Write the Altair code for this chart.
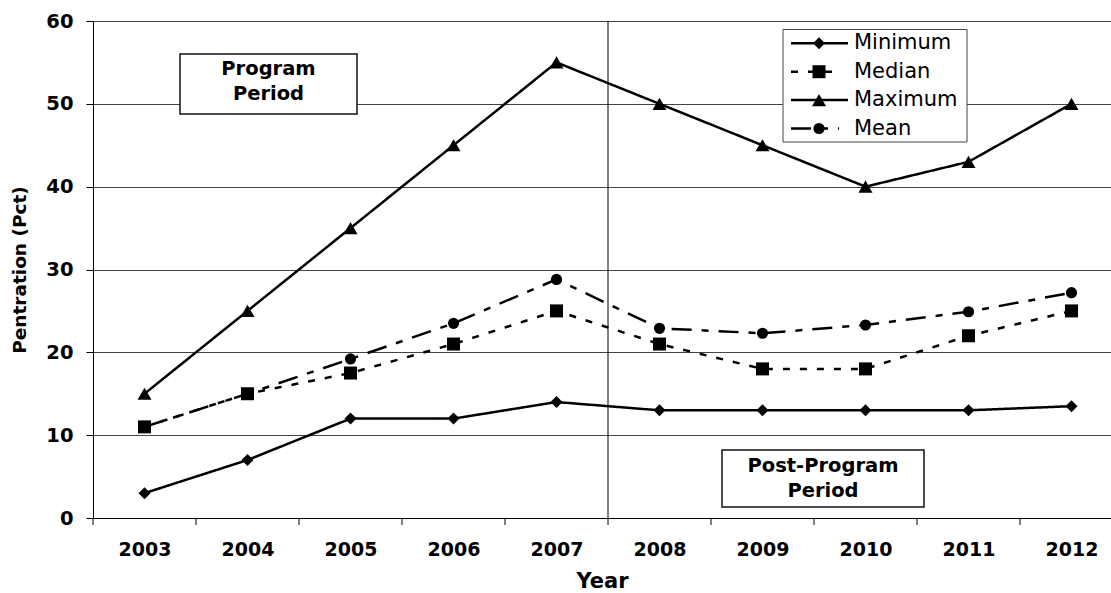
import altair as alt
import pandas as pd

# Penetration statistics by year
years = [2003, 2004, 2005, 2006, 2007, 2008, 2009, 2010, 2011, 2012]
minimum = [3, 7, 12, 12, 14, 13, 13, 13, 13, 13.5]
median = [11, 15, 17.5, 21, 25, 21, 18, 18, 22, 25]
maximum = [15, 25, 35, 45, 55, 50, 45, 40, 43, 50]
mean = [11, 15, 19.2, 23.5, 28.8, 22.9, 22.3, 23.3, 24.9, 27.2]

series_names = ["Minimum", "Median", "Maximum", "Mean"]
y_ticks = [0, 10, 20, 30, 40, 50, 60]
program_end = 2007
period_labels = [["Program", "Period"], ["Post-Program", "Period"]]

FONT = "DejaVu Sans"
W, H = 1018, 497

series_values = {"Minimum": minimum, "Median": median, "Maximum": maximum, "Mean": mean}
styles = {
    "Minimum": dict(shape="diamond", size=144, dash=[1, 0]),
    "Median": dict(shape="square", size=169, dash=[7, 10]),
    "Maximum": dict(shape="triangle-up", size=196, dash=[1, 0]),
    "Mean": dict(shape="circle", size=125, dash=[20, 10, 7, 10]),
}

x_scale = alt.Scale(domain=[2002.5, 2002.5 + W / 103.0], nice=False, zero=False)
y_scale = alt.Scale(domain=[0, 60], nice=False)

x_axis = alt.Axis(
    values=years, format="d", tickSize=0, grid=False, domainColor="black",
    labelFont=FONT, labelFontSize=19, labelFontWeight="bold", labelColor="black",
    labelBaseline="alphabetic", labelPadding=37, labelFlush=False, labelOverlap=False,
    title="Year", titleFont=FONT, titleFontSize=21, titleFontWeight="bold",
    titleColor="black", titleBaseline="alphabetic", titleY=69,
)
y_axis = alt.Axis(
    values=y_ticks, tickSize=7, tickColor="black", domainColor="black",
    grid=True, gridColor="#444", gridWidth=1,
    labelFont=FONT, labelFontSize=19.5, labelFontWeight="bold", labelColor="black",
    labelPadding=13,
    title="Pentration (Pct)", titleFont=FONT, titleFontSize=18.5, titleFontWeight="bold",
    titleColor="black", titleX=-74, titleY=H / 2, titleBaseline="middle",
)

X = dict(scale=x_scale, axis=x_axis)
Y = dict(scale=y_scale, axis=y_axis)


def series_df(name):
    return pd.DataFrame({"year": years, "value": series_values[name], "series": name})


one_row = alt.Data(values=[{"k": 0}])

# tick marks at the year boundaries
bounds = pd.DataFrame({"year": [y - 0.5 for y in years]})
bound_ticks = alt.Chart(bounds).mark_rule(color="black", strokeWidth=1).encode(
    x=alt.X("year:Q", **X),
    y=alt.value(H), y2=alt.value(H + 7),
)

# divider between the program and post-program periods
divider = alt.Chart(one_row).mark_rule(color="black", strokeWidth=1).encode(
    x=alt.X(datum=program_end + 0.5, type="quantitative", **X),
    y=alt.value(0), y2=alt.value(H),
)


def series_layer(name):
    st = styles[name]
    return alt.Chart(series_df(name)).mark_line(
        color="black", strokeWidth=2.5, strokeDash=st["dash"],
        point=alt.OverlayMarkDef(shape=st["shape"], size=st["size"], filled=True,
                                 color="black", opacity=1),
    ).encode(
        x=alt.X("year:Q", **X),
        y=alt.Y("value:Q", **Y),
    )


lines = [series_layer(n) for n in ["Maximum", "Mean", "Median", "Minimum"]]


def period_box(x1, x2, y1, y2, first_line_y, label):
    rect = alt.Chart(one_row).mark_rect(fill="white", stroke="#111", strokeWidth=1.5).encode(
        x=alt.value(x1), x2=alt.value(x2), y=alt.value(y1), y2=alt.value(y2)
    )
    txt = alt.Chart(one_row).mark_text(
        font=FONT, fontSize=19.5, fontWeight="bold", color="black",
        align="center", baseline="middle", lineHeight=25,
    ).encode(x=alt.value((x1 + x2) / 2), y=alt.value(first_line_y), text=alt.value(label))
    return [rect, txt]


boxes = (period_box(87, 264, 33, 93, 47.5, period_labels[0])
         + period_box(629, 831, 429, 486, 444.5, period_labels[1]))

# legend
legend = [
    alt.Chart(one_row).mark_rect(fill="white", stroke="#444", strokeWidth=1).encode(
        x=alt.value(690), x2=alt.value(874), y=alt.value(8.5), y2=alt.value(121)
    )
]
for i, name in enumerate(series_names):
    st = styles[name]
    ry = 22.3 + 28.4 * i
    row = alt.Data(values=[{"label": name}])
    legend.append(
        alt.Chart(row).mark_rule(color="black", strokeWidth=2.5, strokeDash=st["dash"]).encode(
            x=alt.value(698), x2=alt.value(755 if st["dash"] == [1, 0] else 746), y=alt.value(ry)
        )
    )
    legend.append(
        alt.Chart(row).mark_point(shape=st["shape"], size=st["size"], filled=True,
                                  color="black", opacity=1).encode(
            x=alt.value(726), y=alt.value(ry)
        )
    )
    legend.append(
        alt.Chart(row).mark_text(font=FONT, fontSize=21, color="black",
                                 align="left", baseline="middle").encode(
            x=alt.value(761), y=alt.value(ry), text="label:N"
        )
    )

chart = alt.layer(divider, bound_ticks, *lines, *boxes, *legend).properties(
    width=W, height=H,
    padding={"left": 93, "top": 21, "right": 0, "bottom": 75},
    autosize=alt.AutoSizeParams(type="none"),
).configure_view(strokeWidth=0).configure(background="white")

chart.save("out.html", embed_options={"renderer": "svg", "actions": False})
